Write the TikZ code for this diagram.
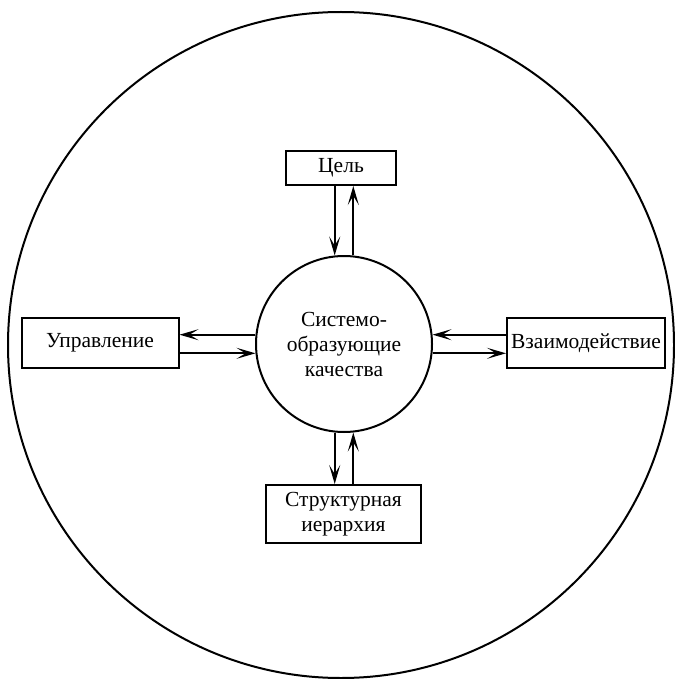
\documentclass[tikz,border=0pt]{standalone}
\usepackage{fontspec}
\setmainfont{Liberation Serif}
\usepackage{tikz}
\usetikzlibrary{arrows.meta}

\begin{document}
\begin{tikzpicture}[
    x=1pt, y=-1pt,
    every node/.style={font=\fontsize{21.5}{25}\selectfont},
    box/.style={rectangle, draw, line width=2pt, align=center, inner sep=0pt},
    core/.style={circle, draw, line width=2pt, align=center, minimum size=176pt, inner sep=0pt},
    arrow/.style={-{Stealth[length=19pt, width=11pt, inset=9pt]}, line width=2pt}
]
\useasboundingbox (0,0) rectangle (674,679);
\node[circle, draw, line width=2pt, minimum size=666pt] (env) at (341,345) {};

\node[core] (core) at (344,344) {Системо-\\образующие\\качества};

\node[box, minimum width=110pt, minimum height=34pt] (cel) at (341,168) {Цель};
\node[box, minimum width=157pt, minimum height=50pt] (upr) at (100,343) {Управление};
\node[box, minimum width=158pt, minimum height=50pt] (vz) at (586,343) {Взаимодействие};
\node[box, minimum width=155pt, minimum height=58pt] (str) at (343.5,514) {Структурная\\иерархия};

\draw[arrow] (core.96 |- cel.south) -- (core.96);
\draw[arrow] (core.84) -- (core.84 |- cel.south);
\draw[arrow] (core.174) -- (core.174 -| upr.east);
\draw[arrow] (upr.east |- core.186) -- (core.186);
\draw[arrow] (vz.west |- core.6) -- (core.6);
\draw[arrow] (core.-6) -- (core.-6 -| vz.west);
\draw[arrow] (core.264) -- (core.264 |- str.north);
\draw[arrow] (core.276 |- str.north) -- (core.276);
\end{tikzpicture}
\end{document}
